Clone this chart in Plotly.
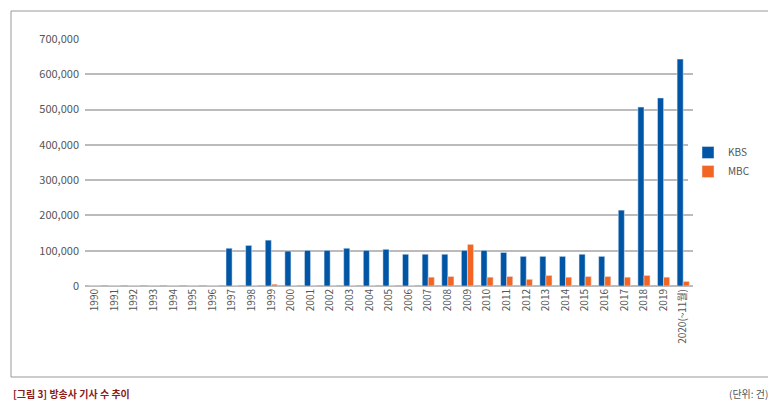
import plotly.graph_objects as go

# 방송사 기사 수 추이 (단위: 건)
years = [str(y) for y in range(1990, 2020)] + ["2020(~11월)"]

kbs = [0, 0, 0, 0, 0, 0, 0,
       107000, 115000, 130000, 99000, 101000, 101000, 107000, 101000, 104000,
       90000, 90000, 90000, 101000, 101000, 95000, 84000, 84000, 84000, 90000,
       84000, 215000, 507000, 533000, 643000]

mbc = [0, 0, 0, 0, 0, 0, 0,
       0, 0, 5000, 0, 0, 0, 0, 0, 0,
       0, 25000, 27000, 118000, 25000, 27000, 19000, 30000, 25000, 27000,
       27000, 25000, 30000, 25000, 13000]

y_ticks = [0, 100000, 200000, 300000, 400000, 500000, 600000, 700000]

# the page body adds an 8px margin, so the figure is drawn 8px smaller and
# every pixel position below is measured in page pixels minus that offset
OFF = 8
W, H = 776 - OFF, 403 - OFF
PL, PR, PT, PB = 85 - OFF, 693 - OFF, 39 - OFF, 286 - OFF


def px_x(x):
    return (x - OFF - PL) / (PR - PL)


def px_y(y):
    return (PB - (y - OFF)) / (PB - PT)


FONT = "Noto Sans CJK KR, Noto Sans, sans-serif"

fig = go.Figure()
fig.add_trace(go.Bar(x=years, y=kbs, name="KBS", marker={"color": "#0055A4"}))
fig.add_trace(go.Bar(x=years, y=mbc, name="MBC", marker={"color": "#F26522"}))

fig.update_layout(
    width=W,
    height=H,
    margin={"l": PL, "r": W - PR, "t": PT, "b": H - PB},
    paper_bgcolor="white",
    plot_bgcolor="white",
    font={"family": FONT, "size": 11, "color": "#555555"},
    barmode="group",
    bargap=0.38,
    bargroupgap=0.0,
    showlegend=True,
    legend={
        "x": px_x(688), "y": px_y(162), "xanchor": "left", "yanchor": "middle",
        "font": {"size": 10, "color": "#555555"},
        "tracegroupgap": 10,
        "itemwidth": 30,
    },
    xaxis={
        "type": "category",
        "tickangle": -90,
        "showgrid": False,
        "showline": False,
        "ticks": "",
        "tickfont": {"size": 10, "color": "#555555"},
    },
    yaxis={
        "range": [0, 700000],
        "tickvals": y_ticks,
        "tickformat": ",d",
        "showgrid": True,
        "gridcolor": "#BBBBBB",
        "gridwidth": 1.5,
        "zeroline": True,
        "zerolinecolor": "#BBBBBB",
        "zerolinewidth": 1.5,
        "ticks": "",
        "ticklabelstandoff": 5,
        "tickfont": {"size": 11, "color": "#555555"},
    },
    shapes=[{
        "type": "rect", "xref": "paper", "yref": "paper",
        "x0": px_x(11), "x1": px_x(770), "y0": px_y(377), "y1": px_y(11),
        "line": {"color": "#999999", "width": 1},
        "layer": "below",
    }],
    annotations=[
        {
            "text": "<b>[그림 3] 방송사 기사 수 추이</b>",
            "xref": "paper", "yref": "paper",
            "x": px_x(11), "y": px_y(393),
            "xanchor": "left", "yanchor": "middle",
            "showarrow": False,
            "font": {"size": 10, "color": "#8B1A1A"},
        },
        {
            "text": "(단위: 건)",
            "xref": "paper", "yref": "paper",
            "x": px_x(770), "y": px_y(393),
            "xanchor": "right", "yanchor": "middle",
            "showarrow": False,
            "font": {"size": 10, "color": "#555555"},
        },
    ],
)

fig.write_html("out.html")
